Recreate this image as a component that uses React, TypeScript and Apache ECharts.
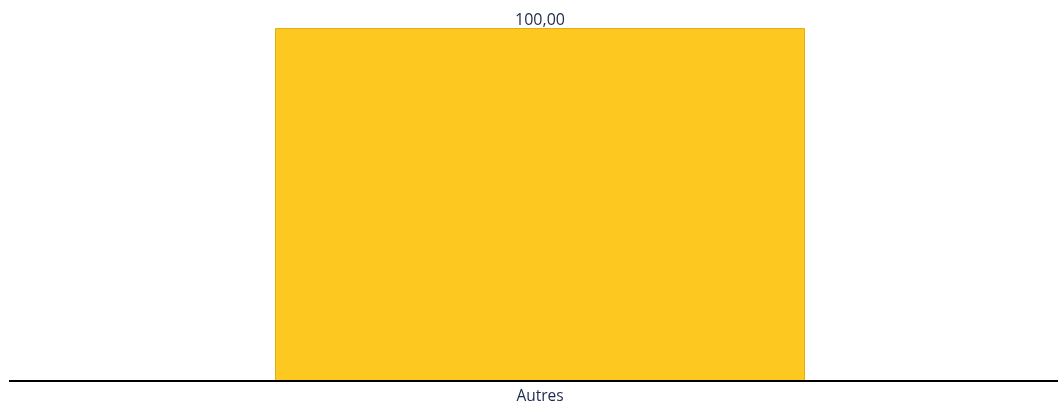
import React, { useEffect, useRef } from "react";
import * as echarts from "echarts";

const categories = ["Autres"];
const values = [100];

const W = 1058;
const H = 403;
const GRID_BOTTOM = 22;

export default function App() {
  const ref = useRef<HTMLDivElement>(null);
  useEffect(() => {
    if (!ref.current) return;
    const chart = echarts.init(ref.current, null, { renderer: "svg" });
    chart.setOption({
      animation: false,
      grid: { left: 22, top: 28, right: 0, bottom: GRID_BOTTOM, containLabel: false },
      xAxis: {
        type: "category",
        data: categories,
        axisLine: { show: false },
        axisTick: { show: false },
        axisLabel: {
          color: "#1c2b4a",
          fontSize: 15.5,
          lineHeight: 15,
          fontFamily: "Open Sans",
          margin: 6,
        },
      },
      yAxis: {
        type: "value",
        min: 0,
        max: 100,
        show: false,
        splitLine: { show: false },
      },
      graphic: [
        {
          type: "line",
          z: 100,
          shape: { x1: 9, y1: H - GRID_BOTTOM, x2: W, y2: H - GRID_BOTTOM },
          style: { stroke: "#000", lineWidth: 2 },
        },
      ],
      series: [
        {
          type: "bar",
          data: values,
          barWidth: 530,
          itemStyle: { color: "#FDC921", borderColor: "#E3AE12", borderWidth: 1 },
          label: {
            show: true,
            position: "top",
            distance: 1,
            color: "#1c2b4a",
            fontSize: 16,
            fontFamily: "Open Sans",
            formatter: (p: any) => p.value.toFixed(2).replace(".", ","),
          },
        },
      ],
    });
    return () => chart.dispose();
  }, []);
  return (
    <div
      ref={ref}
      style={{ position: "fixed", left: 0, top: 0, width: W, height: H }}
    />
  );
}
